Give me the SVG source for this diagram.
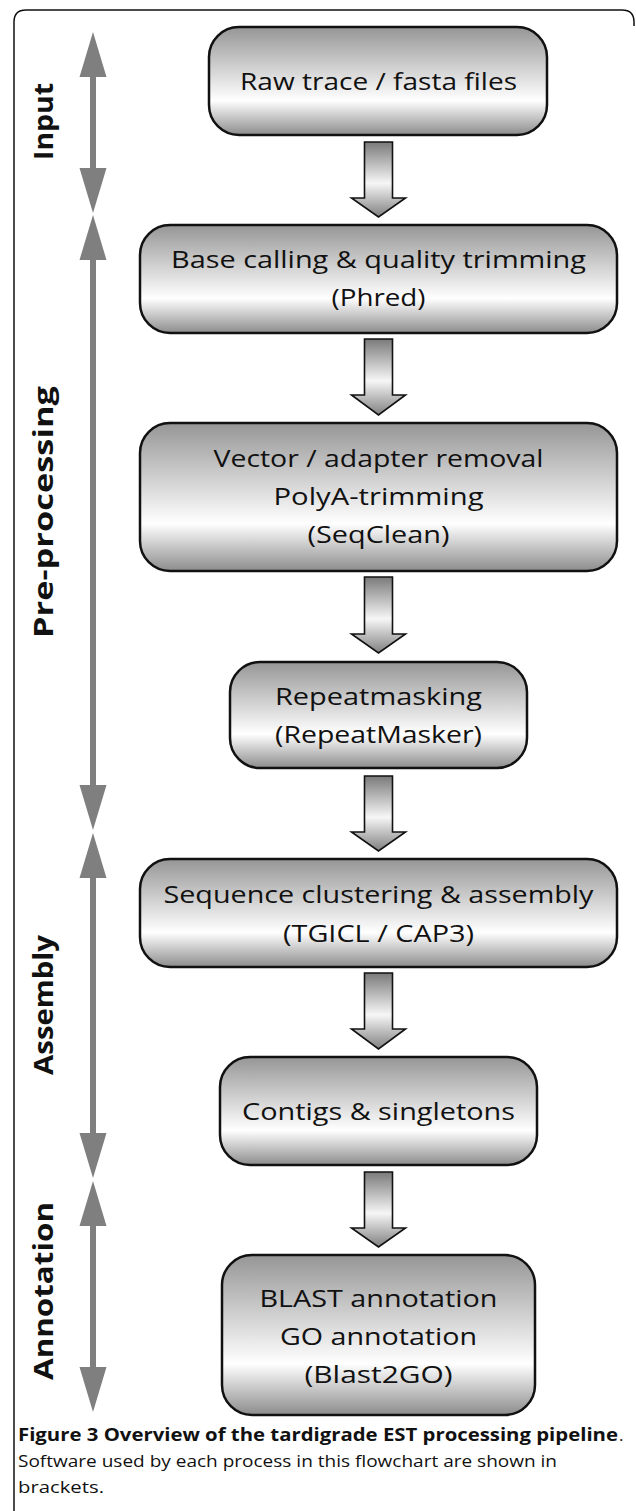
<svg xmlns="http://www.w3.org/2000/svg" width="636" height="1511" viewBox="0 0 636 1511">
<defs>
<linearGradient id="boxGrad" x1="0" y1="0" x2="0" y2="1">
<stop offset="0" stop-color="#969696"/>
<stop offset="0.68" stop-color="#ffffff"/>
<stop offset="1" stop-color="#8c8c8c"/>
</linearGradient>
<linearGradient id="arrGrad" x1="0" y1="0" x2="0" y2="1">
<stop offset="0" stop-color="#7a7a7a"/>
<stop offset="0.55" stop-color="#f6f6f6"/>
<stop offset="1" stop-color="#808080"/>
</linearGradient>
<style>
.box{fill:url(#boxGrad);stroke:#111;stroke-width:2.5}
.blk{fill:url(#arrGrad);stroke:#111;stroke-width:1.6;stroke-linejoin:miter}
.t{font-family:"Open Sans","Noto Sans",sans-serif;font-size:24px;fill:#111;text-anchor:middle}
.lab{font-family:"Open Sans","Noto Sans",sans-serif;font-size:26px;font-weight:bold;fill:#111}
.side{fill:#7f7f7f}
.cap{font-family:"Open Sans","Noto Sans",sans-serif;font-size:17px;fill:#111}
</style>
</defs>
<rect width="636" height="1511" fill="#ffffff"/>
<path d="M14,1511 V22 Q14,10 26,10 H622 Q634,10 634,22 V26" fill="none" stroke="#111" stroke-width="1.5"/>

<g id="phase-arrows">
<path class="side" d="M93,32 L106.5,77 L96,77 L96,168 L106.5,168 L93,213 L79.5,168 L90,168 L90,77 L79.5,77 Z"/>
<path class="side" d="M93,215 L106.5,260 L96,260 L96,785 L106.5,785 L93,830 L79.5,785 L90,785 L90,260 L79.5,260 Z"/>
<path class="side" d="M93,833 L106.5,878 L96,878 L96,1133 L106.5,1133 L93,1178 L79.5,1133 L90,1133 L90,878 L79.5,878 Z"/>
<path class="side" d="M93,1181 L106.5,1226 L96,1226 L96,1367 L106.5,1367 L93,1412 L79.5,1367 L90,1367 L90,1226 L79.5,1226 Z"/>
</g>

<g id="labels">
<text class="lab" transform="translate(53,160) rotate(-90)" textLength="77" lengthAdjust="spacingAndGlyphs">Input</text>
<text class="lab" transform="translate(53,638) rotate(-90)" textLength="252" lengthAdjust="spacingAndGlyphs">Pre-processing</text>
<text class="lab" transform="translate(53,1075) rotate(-90)" textLength="140" lengthAdjust="spacingAndGlyphs">Assembly</text>
<text class="lab" transform="translate(53,1380) rotate(-90)" textLength="178" lengthAdjust="spacingAndGlyphs">Annotation</text>
</g>

<g id="connectors">
<path class="blk" d="M364.5,142 H392.5 V198 H405.5 L378.5,217 L351.5,198 H364.5 Z"/>
<path class="blk" d="M364.5,339 H392.5 V395 H405.5 L378.5,415 L351.5,395 H364.5 Z"/>
<path class="blk" d="M364.5,577 H392.5 V634 H405.5 L378.5,653 L351.5,634 H364.5 Z"/>
<path class="blk" d="M364.5,776 H392.5 V832 H405.5 L378.5,851 L351.5,832 H364.5 Z"/>
<path class="blk" d="M364.5,973 H392.5 V1029 H405.5 L378.5,1049 L351.5,1029 H364.5 Z"/>
<path class="blk" d="M364.5,1172 H392.5 V1228 H405.5 L378.5,1247 L351.5,1228 H364.5 Z"/>
</g>

<g id="n1">
<rect class="box" x="209" y="27" width="338" height="108" rx="30"/>
<text class="t" x="378.5" y="90" textLength="277" lengthAdjust="spacingAndGlyphs">Raw trace / fasta files</text>
</g>
<g id="n2">
<rect class="box" x="140" y="225" width="477" height="108" rx="30"/>
<text class="t" x="378.5" y="268" textLength="415" lengthAdjust="spacingAndGlyphs">Base calling &amp; quality trimming</text>
<text class="t" x="378.5" y="306" textLength="94" lengthAdjust="spacingAndGlyphs">(Phred)</text>
</g>
<g id="n3">
<rect class="box" x="140" y="423" width="477" height="148" rx="30"/>
<text class="t" x="378.5" y="467" textLength="330" lengthAdjust="spacingAndGlyphs">Vector / adapter removal</text>
<text class="t" x="378.5" y="505" textLength="210" lengthAdjust="spacingAndGlyphs">PolyA-trimming</text>
<text class="t" x="378.5" y="543" textLength="142" lengthAdjust="spacingAndGlyphs">(SeqClean)</text>
</g>
<g id="n4">
<rect class="box" x="230" y="662" width="297" height="106" rx="30"/>
<text class="t" x="378.5" y="705" textLength="207" lengthAdjust="spacingAndGlyphs">Repeatmasking</text>
<text class="t" x="378.5" y="743" textLength="207" lengthAdjust="spacingAndGlyphs">(RepeatMasker)</text>
</g>
<g id="n5">
<rect class="box" x="140" y="859" width="477" height="108" rx="30"/>
<text class="t" x="378.5" y="903" textLength="430" lengthAdjust="spacingAndGlyphs">Sequence clustering &amp; assembly</text>
<text class="t" x="378.5" y="942" textLength="191" lengthAdjust="spacingAndGlyphs">(TGICL / CAP3)</text>
</g>
<g id="n6">
<rect class="box" x="220" y="1057" width="317" height="108" rx="30"/>
<text class="t" x="378.5" y="1120" textLength="273" lengthAdjust="spacingAndGlyphs">Contigs &amp; singletons</text>
</g>
<g id="n7">
<rect class="box" x="222" y="1255" width="313" height="160" rx="30"/>
<text class="t" x="378.5" y="1307" textLength="238" lengthAdjust="spacingAndGlyphs">BLAST annotation</text>
<text class="t" x="378.5" y="1345" textLength="197" lengthAdjust="spacingAndGlyphs">GO annotation</text>
<text class="t" x="378.5" y="1383" textLength="148" lengthAdjust="spacingAndGlyphs">(Blast2GO)</text>
</g>

<g id="caption">
<text class="cap" x="18" y="1441" font-weight="bold" textLength="600" lengthAdjust="spacingAndGlyphs">Figure 3 Overview of the tardigrade EST processing pipeline</text>
<text class="cap" x="619" y="1441">.</text>
<text class="cap" x="18" y="1467" textLength="539" lengthAdjust="spacingAndGlyphs">Software used by each process in this flowchart are shown in</text>
<text class="cap" x="18" y="1493" textLength="86" lengthAdjust="spacingAndGlyphs">brackets.</text>
</g>
</svg>
